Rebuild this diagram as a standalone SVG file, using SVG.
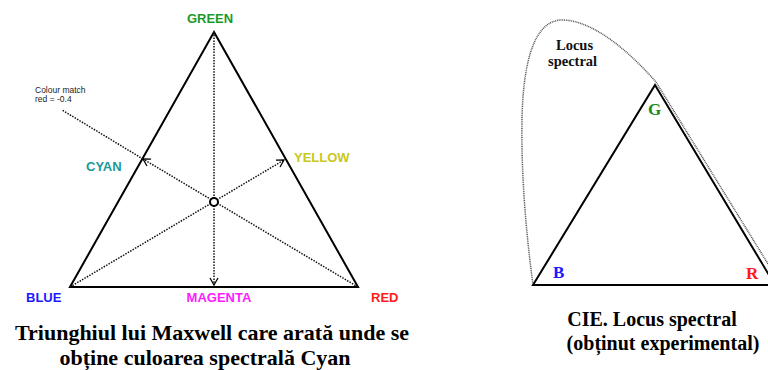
<svg xmlns="http://www.w3.org/2000/svg" width="768" height="370" viewBox="0 0 768 370">
<style>
.lbl{font-family:"Liberation Sans",Arial,sans-serif;font-weight:bold;font-size:13px}
.cap{font-family:"Liberation Serif","Times New Roman",serif;font-weight:bold;font-size:22px;fill:#000}
.capr{font-family:"Liberation Serif","Times New Roman",serif;font-weight:bold;font-size:20px;fill:#000}
.ser{font-family:"Liberation Serif","Times New Roman",serif;font-weight:bold}
.edge{fill:none;stroke:#000;stroke-width:2;stroke-linejoin:miter}
.dot{fill:none;stroke:#111;stroke-width:1.5;stroke-dasharray:1.5 1.3}
.locus{fill:none;stroke:#555;stroke-width:1.5;stroke-dasharray:1 0.8}
</style>
<defs>
<marker id="arr" markerUnits="userSpaceOnUse" markerWidth="12" markerHeight="12" refX="0" refY="0" viewBox="-8 -6 10 12" orient="auto">
<path d="M-7,-4 L0,0 L-7,4" fill="none" stroke="#000" stroke-width="1.3"/>
</marker>
</defs>
<rect width="768" height="370" fill="#fff"/>

<g id="maxwell">
  <g id="triangle-maxwell">
    <path class="edge" d="M214,32 L358,287 L70,287 Z"/>
  </g>
  <g id="connectors">
    <line class="dot" x1="214" y1="32" x2="214" y2="285" marker-end="url(#arr)"/>
    <line class="dot" x1="70" y1="287" x2="284" y2="160" marker-end="url(#arr)"/>
    <line class="dot" x1="358" y1="287" x2="143" y2="159" marker-end="url(#arr)"/>
    <line class="dot" x1="143" y1="159" x2="62" y2="110"/>
  </g>
  <g id="center">
    <circle cx="214" cy="202" r="4" fill="#fff" stroke="#000" stroke-width="2"/>
  </g>
  <g id="green"><text class="lbl" x="210" y="23" text-anchor="middle" fill="#1a9a2a">GREEN</text></g>
  <g id="cyan"><text class="lbl" x="86" y="171" fill="#1a9a9a">CYAN</text></g>
  <g id="yellow"><text class="lbl" x="294" y="162" fill="#c8c81e">YELLOW</text></g>
  <g id="blue"><text class="lbl" x="26" y="302" fill="#1a1aff">BLUE</text></g>
  <g id="magenta"><text class="lbl" x="219" y="302" text-anchor="middle" fill="#ff1aff">MAGENTA</text></g>
  <g id="red"><text class="lbl" x="371" y="302" fill="#ff1a1a">RED</text></g>
  <g id="colour-match">
    <text font-family="'Liberation Sans',Arial,sans-serif" font-size="8.5" fill="#222"><tspan x="35" y="93">Colour match</tspan><tspan x="35" y="102">red = -0.4</tspan></text>
  </g>
  <g id="caption-left">
    <text class="cap" text-anchor="middle"><tspan x="212" y="340">Triunghiul lui Maxwell care arată unde se</tspan><tspan x="205" y="365">obține culoarea spectrală Cyan</tspan></text>
  </g>
</g>

<g id="cie">
  <g id="locus">
    <path class="locus" d="M533,285 C527,240 521,180 522,120 C523,60 535,20 562,20 C592,20 628,50 656,82 L781,285"/>
  </g>
  <g id="triangle-cie">
    <path class="edge" d="M655,85 L775,285 L533,285 Z"/>
  </g>
  <g id="locus-label">
    <text class="ser" font-size="14.5" fill="#111"><tspan x="556" y="50">Locus</tspan><tspan x="548" y="66">spectral</tspan></text>
  </g>
  <g id="G"><text class="ser" font-size="17" x="648" y="115" fill="#1a8a1a">G</text></g>
  <g id="B"><text class="ser" font-size="17" x="553" y="278" fill="#1a1aff">B</text></g>
  <g id="R"><text class="ser" font-size="17" x="746" y="279" fill="#ff1a1a">R</text></g>
  <g id="caption-right">
    <text class="capr" text-anchor="middle"><tspan x="652" y="326">CIE. Locus spectral</tspan><tspan x="663" y="350">(obținut experimental)</tspan></text>
  </g>
</g>
</svg>
